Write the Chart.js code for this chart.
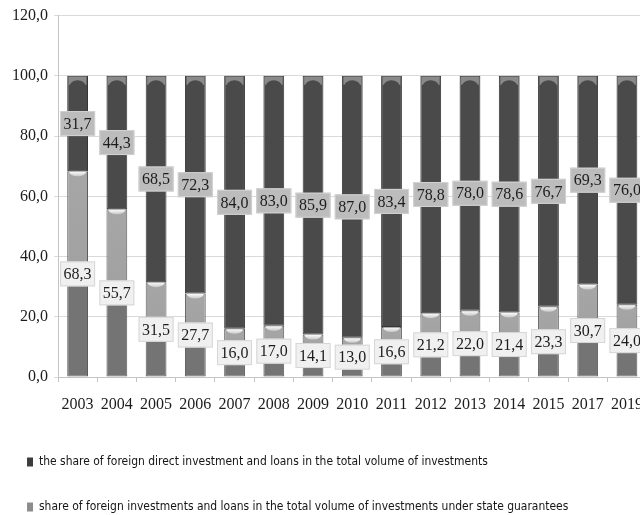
<!DOCTYPE html>
<html>
<head>
<meta charset="utf-8">
<script src="https://cdn.jsdelivr.net/npm/chart.js@4.4.1/dist/chart.umd.min.js"></script>
<style>
  html, body { margin: 0; padding: 0; background: #ffffff; overflow: hidden; }
  #wrap { width: 640px; height: 515px; overflow: hidden; position: relative; }
  canvas { display: block; }
</style>
</head>
<body>
<div id="wrap"><canvas id="c" width="656" height="560"></canvas></div>
<script>
const categories = ['2003','2004','2005','2006','2007','2008','2009','2010','2011','2012','2013','2014','2015','2017','2019'];
const fdiShare = [31.7,44.3,68.5,72.3,84.0,83.0,85.9,87.0,83.4,78.8,78.0,78.6,76.7,69.3,76.0];
const guaranteedShare = [68.3,55.7,31.5,27.7,16.0,17.0,14.1,13.0,16.6,21.2,22.0,21.4,23.3,30.7,24.0];
const seriesNames = [
  'share of foreign investments and loans in the total volume of investments under state guarantees',
  'the share of foreign direct investment and loans in the total volume of investments'
];

const fmt = v => Number(v).toFixed(1).replace('.', ',');

// legend font sizing so the condensed text spans like the reference
const legendFamily = '"Liberation Sans Narrow", "DejaVu Sans Condensed", "Roboto Condensed", sans-serif';
const mc = document.createElement('canvas').getContext('2d');
mc.font = '100px ' + legendFamily;
const w100 = mc.measureText(seriesNames[0]).width;
const legendFs = Math.max(10, Math.min(18, 530 / w100 * 100));
const rowGap = 45;
const legendPad = rowGap - legendFs;
const H = 560;
const padBottom = H - (517 + legendFs / 2);

const serif = '"Liberation Serif", "Times New Roman", serif';

const lightColor = (c) => {
  const fallback = '#a0a0a0';
  if (c.type !== 'data') return fallback;
  const ys = c.chart.scales && c.chart.scales.y;
  if (!ys) return fallback;
  const p0 = ys.getPixelForValue(0);
  const p1 = ys.getPixelForValue(c.parsed ? c.parsed.y : c.raw);
  if (!isFinite(p0) || !isFinite(p1) || Math.abs(p0 - p1) < 1) return fallback;
  const g = c.chart.ctx.createLinearGradient(0, p0, 0, p1);
  g.addColorStop(0, '#747474');
  g.addColorStop(0.5, '#747474');
  g.addColorStop(0.5, '#a1a1a1');
  g.addColorStop(1, '#a6a6a6');
  return g;
};

const barDecor = {
  id: 'barDecor',
  afterDatasetsDraw(chart) {
    const ctx = chart.ctx;
    const lightMeta = chart.getDatasetMeta(0);
    const darkMeta = chart.getDatasetMeta(1);
    ctx.save();
    // tube rim at top of dark segments
    darkMeta.data.forEach(el => {
      const p = el.getProps(['x', 'y', 'width'], true);
      const l = p.x - p.width / 2;
      ctx.fillStyle = '#8a8a8a';
      ctx.fillRect(l + 1.5, p.y + 1, p.width - 3, 8);
      ctx.fillStyle = '#4a4a4a';
      ctx.beginPath();
      ctx.ellipse(p.x, p.y + 10, p.width / 2 - 2.5, 5.5, 0, 0, Math.PI * 2);
      ctx.fill();
    });
    // highlight at top of light segments
    lightMeta.data.forEach(el => {
      const p = el.getProps(['x', 'y', 'width'], true);
      const g = ctx.createLinearGradient(0, p.y, 0, p.y + 5);
      g.addColorStop(0, '#ffffff');
      g.addColorStop(1, '#c9c9c9');
      ctx.fillStyle = g;
      ctx.beginPath();
      ctx.ellipse(p.x, p.y + 0.5, p.width / 2 - 2, 4.5, 0, 0, Math.PI);
      ctx.fill();
    });
    // value labels
    ctx.font = '16px ' + serif;
    ctx.textAlign = 'center';
    ctx.textBaseline = 'middle';
    [[lightMeta, guaranteedShare, '#f0f0f0', '#d6d6d6'], [darkMeta, fdiShare, '#bcbcbc', '#d2d2d2']].forEach(([meta, vals, fill, stroke]) => {
      meta.data.forEach((el, i) => {
        const p = el.getProps(['x', 'y', 'base'], true);
        const cy = (p.y + p.base) / 2;
        const txt = fmt(vals[i]);
        const tw = ctx.measureText(txt).width;
        const bw = tw + 7, bh = 25;
        ctx.fillStyle = fill;
        ctx.fillRect(p.x - bw / 2, cy - bh / 2, bw, bh);
        ctx.strokeStyle = stroke;
        ctx.lineWidth = 1;
        ctx.strokeRect(p.x - bw / 2 + 0.5, cy - bh / 2 + 0.5, bw - 1, bh - 1);
        ctx.fillStyle = '#1c1c1c';
        ctx.fillText(txt, p.x, cy + 1);
      });
    });
    ctx.restore();
  }
};

const legendFills = ['#8c8c8c', '#3c3c3c'];

new Chart(document.getElementById('c'), {
  type: 'bar',
  data: {
    labels: categories,
    datasets: [
      {
        label: seriesNames[0],
        data: guaranteedShare,
        backgroundColor: lightColor,
        borderColor: '#5c5c5c',
        borderWidth: 1,
        borderSkipped: false,
        barPercentage: 0.53,
        categoryPercentage: 1.0
      },
      {
        label: seriesNames[1],
        data: fdiShare,
        backgroundColor: '#4a4a4a',
        borderColor: '#363636',
        borderWidth: 1,
        borderSkipped: false,
        barPercentage: 0.53,
        categoryPercentage: 1.0
      }
    ]
  },
  options: {
    responsive: false,
    animation: false,
    devicePixelRatio: 1,
    layout: { padding: { left: -6, right: 2, top: 8, bottom: padBottom } },
    scales: {
      x: {
        stacked: true,
        grid: { offset: true, drawOnChartArea: false, drawTicks: true, tickLength: 5, color: '#c4c4c4' },
        border: { color: '#c4c4c4' },
        ticks: { color: '#1c1c1c', font: { family: serif, size: 16 }, padding: 13, maxRotation: 0, autoSkip: false },
        afterFit: (s) => { s.height = 40 + legendFs / 2; }
      },
      y: {
        stacked: true,
        min: 0,
        max: 120,
        ticks: { stepSize: 20, callback: v => fmt(v), color: '#1c1c1c', font: { family: serif, size: 16 }, padding: 6 },
        grid: { color: '#dadada', tickLength: 4 },
        border: { color: '#c4c4c4' },
        afterFit: (s) => { s.width = 64; }
      }
    },
    plugins: {
      tooltip: { enabled: false },
      legend: {
        position: 'bottom',
        align: 'start',
        reverse: true,
        labels: {
          boxWidth: 6,
          boxHeight: 9,
          padding: legendPad,
          color: '#151515',
          font: { family: legendFamily, size: legendFs },
          generateLabels: (chart) => Chart.defaults.plugins.legend.labels.generateLabels(chart).map(it => {
            it.fillStyle = legendFills[it.datasetIndex];
            it.strokeStyle = legendFills[it.datasetIndex];
            it.lineWidth = 0;
            return it;
          })
        }
      }
    }
  },
  plugins: [barDecor]
});
</script>
</body>
</html>
